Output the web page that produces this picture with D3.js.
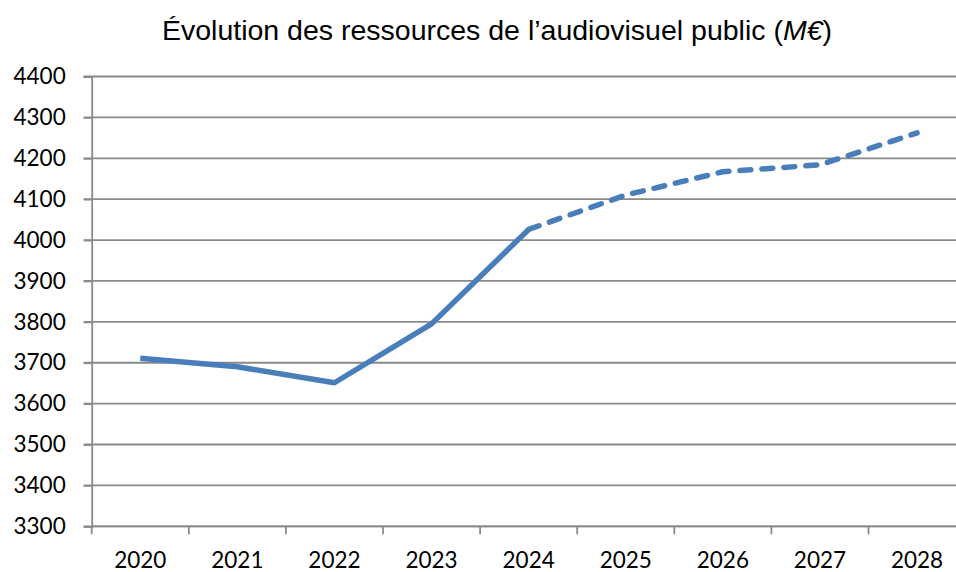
<!DOCTYPE html>
<html>
<head>
<meta charset="utf-8">
<script src="https://cdn.jsdelivr.net/npm/d3@7"></script>
<style>
  body { margin: 0; background: #fff; }
</style>
</head>
<body>
<div id="chart"></div>
<script>
var years = ["2020", "2021", "2022", "2023", "2024", "2025", "2026", "2027", "2028"];
var ressources = [3711, 3690, 3651, 3795, 4026, 4110, 4167, 4184, 4262];
var yTicks = [3300, 3400, 3500, 3600, 3700, 3800, 3900, 4000, 4100, 4200, 4300, 4400];
var lastActual = "2024"; // solid up to here, dashed after

var width = 956, height = 572;
var plotLeft = 91.7, plotTop = 76.5, plotBottom = 526.3;
var bandW = 97.1;

var svg = d3.select("#chart").append("svg")
  .attr("width", width)
  .attr("height", height);

var x = d3.scaleBand()
  .domain(years)
  .range([plotLeft, plotLeft + bandW * years.length]);

var y = d3.scaleLinear()
  .domain([3300, 4400])
  .range([plotBottom, plotTop]);

// horizontal grid
svg.append("g")
  .selectAll("line")
  .data(yTicks)
  .enter().append("line")
  .attr("x1", plotLeft - 8).attr("x2", width)
  .attr("y1", function (d) { return y(d); })
  .attr("y2", function (d) { return y(d); })
  .attr("stroke", "#8a8a8a")
  .attr("stroke-width", 1.8);

// y axis
var yAxis = svg.append("g")
  .attr("transform", "translate(" + plotLeft + ",0)")
  .call(d3.axisLeft(y).tickValues(yTicks).tickFormat(d3.format("d")).tickSize(8).tickPadding(18));
yAxis.select(".domain").attr("stroke", "#8a8a8a").attr("stroke-width", 1.8);
yAxis.selectAll(".tick line").attr("stroke", "#8a8a8a").attr("stroke-width", 1.8);
yAxis.selectAll("text")
  .attr("font-family", "Lato, 'Open Sans', sans-serif")
  .attr("font-size", 22.5)
  .attr("fill", "#000");

// x axis, ticks between categories
var xAxis = svg.append("g")
  .attr("transform", "translate(0," + plotBottom + ")");
xAxis.append("line")
  .attr("x1", plotLeft).attr("x2", width)
  .attr("stroke", "#8a8a8a").attr("stroke-width", 1.8);
xAxis.selectAll(".sep")
  .data(years)
  .enter().append("line")
  .attr("class", "sep")
  .attr("x1", function (d) { return x(d); })
  .attr("x2", function (d) { return x(d); })
  .attr("y1", 0).attr("y2", 8)
  .attr("stroke", "#8a8a8a").attr("stroke-width", 1.8);
xAxis.selectAll(".lbl")
  .data(years)
  .enter().append("text")
  .attr("class", "lbl")
  .attr("x", function (d) { return x(d) + x.bandwidth() / 2; })
  .attr("y", 42)
  .attr("text-anchor", "middle")
  .attr("font-family", "Lato, 'Open Sans', sans-serif")
  .attr("font-size", 22.5)
  .attr("fill", "#000")
  .text(function (d) { return d; });

// series
var pts = years.map(function (d, i) { return { year: d, v: ressources[i] }; });
var cut = years.indexOf(lastActual);

var line = d3.line()
  .x(function (d) { return x(d.year) + x.bandwidth() / 2; })
  .y(function (d) { return y(d.v); });

svg.append("path")
  .datum(pts.slice(0, cut + 1))
  .attr("d", line)
  .attr("fill", "none")
  .attr("stroke", "#4a7ebb")
  .attr("stroke-width", 5.5)
  .attr("stroke-linejoin", "round");

svg.append("path")
  .datum(pts.slice(cut))
  .attr("d", line)
  .attr("fill", "none")
  .attr("stroke", "#4a7ebb")
  .attr("stroke-width", 5.5)
  .attr("stroke-linecap", "round")
  .attr("stroke-linejoin", "round")
  .attr("stroke-dasharray", "11,11");

// title
var title = svg.append("text")
  .attr("x", 497)
  .attr("y", 40)
  .attr("text-anchor", "middle")
  .attr("font-family", "'Liberation Sans', Arial, sans-serif")
  .attr("font-size", 28.5)
  .attr("fill", "#000");
title.append("tspan").text("Évolution des ressources de l’audiovisuel public (");
title.append("tspan").attr("font-style", "italic").text("M€");
title.append("tspan").text(")");
</script>
</body>
</html>
